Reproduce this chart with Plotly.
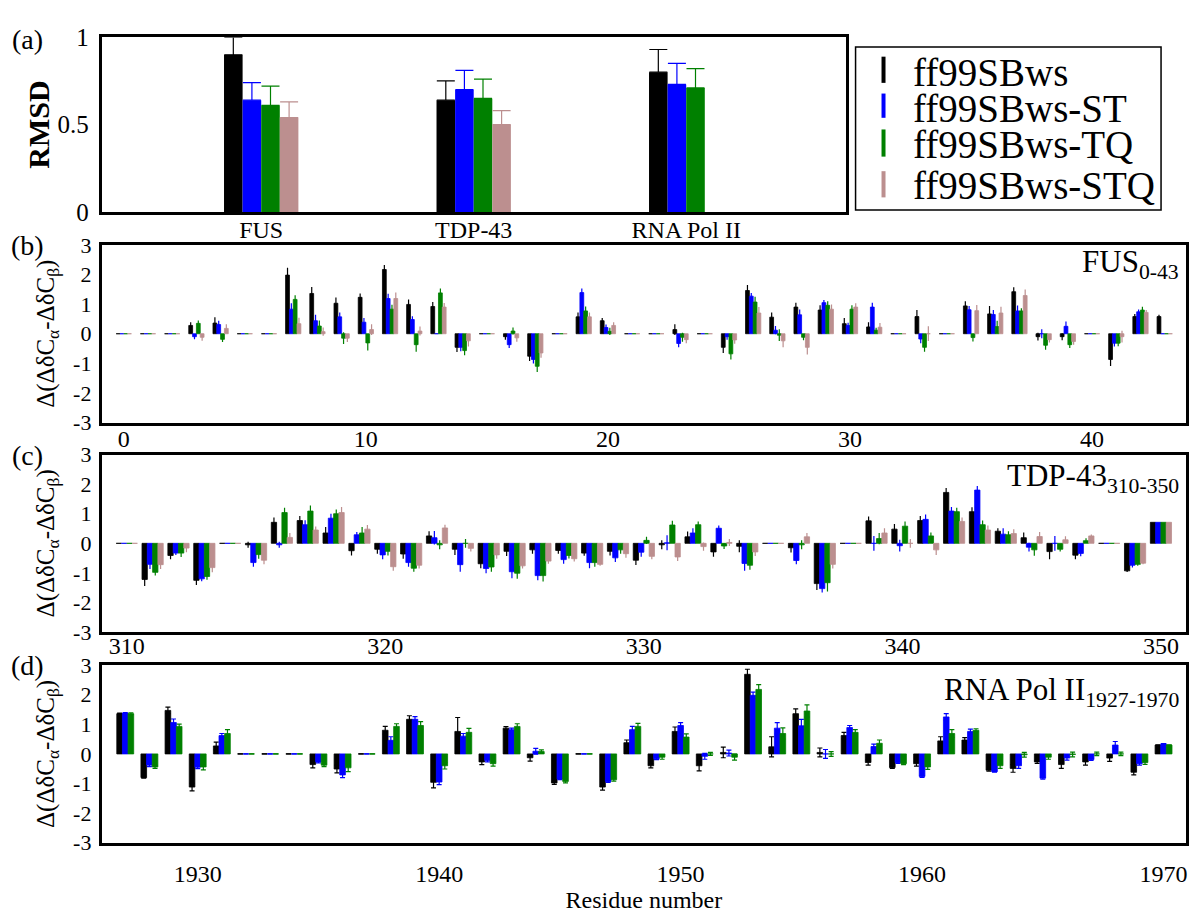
import plotly.graph_objects as go

W, H = 1193, 913
FONT = "Liberation Serif"

series_names = ["ff99SBws", "ff99SBws-ST", "ff99SBws-TQ", "ff99SBws-STQ"]
colors = ["#000000", "#0000ff", "#008000", "#bc8f8f"]

# ---------------- panel (a): RMSD ----------------
rmsd_categories = ["FUS", "TDP-43", "RNA Pol II"]
rmsd_ws = [0.90, 0.64, 0.80]
rmsd_st = [0.64, 0.70, 0.73]
rmsd_tq = [0.61, 0.65, 0.71]
rmsd_stq = [0.54, 0.50, None]
rmsd_err_ws = [0.10, 0.11, 0.13]
rmsd_err_st = [0.10, 0.11, 0.12]
rmsd_err_tq = [0.11, 0.11, 0.11]
rmsd_err_stq = [0.09, 0.08, None]

# ---------------- panel (b): FUS 0-43 ----------------
fus_res = list(range(0, 44))
fus_ws = [0, 0, 0, 0.28, 0.36, 0, 0, 1.98, 1.36, 1.03, 1.23, 2.17, 0.99, 0.92, -0.46, 0,
          -0.10, -0.76, 0, 0.57, 0.44, 0, 0, 0.14, 0, -0.46, 1.46, 0.56, 0.90, 0.80, 0.34, 0.23,
          0, 0.58, 0, 0.94, 0.67, 1.42, -0.10, -0.10, 0, -0.87, 0.58, 0.58]
fus_st = [0, 0, 0, -0.10, 0.31, 0, 0, 0.83, 0.44, 0.57, 0.39, 1.19, 0.48, 0.00, -0.46, 0,
          -0.37, -0.87, 0, 1.39, 0.21, 0, 0, -0.33, 0, -0.10, 1.27, 0.12, 0.64, 1.05, 0.28, 0.90,
          0, -0.18, 0, 0.81, 0.65, 0.77, 0.00, 0.25, 0, -0.32, 0.74, 0]
fus_tq = [0, 0, 0, 0.35, -0.19, 0, 0, 1.16, 0.26, -0.15, -0.31, 0.83, -0.37, 1.38, -0.57, 0,
          0.09, -1.10, 0, 0.77, 0.08, 0, 0, -0.12, 0, -0.68, 1.07, -0.05, -0.12, 0.96, 0.83, 0.12,
          0, -0.46, 0, -0.13, 0.24, 0.77, -0.39, -0.37, 0, -0.32, 0.80, 0]
fus_stq = [0, 0, 0, -0.12, 0.18, 0, 0, 0.34, 0.07, -0.15, 0.14, 1.19, 0.09, 0.90, -0.24, 0,
           -0.14, -0.65, 0, 0.57, 0.28, 0, 0, -0.20, 0, -0.21, 0.70, -0.24, -0.46, 0.83, 0.90, 0.22,
           0, 0.00, 0, 0.78, 0.70, 1.29, -0.20, -0.26, 0, -0.10, 0.72, 0]
fus_err_ws = [0, 0, 0, 0.11, 0.20, 0, 0, 0.25, 0.22, 0.19, 0.13, 0.15, 0.17, 0.15, 0.16, 0,
              0.10, 0.16, 0, 0.15, 0.09, 0, 0, 0.18, 0, 0.19, 0.19, 0.16, 0.15, 0.16, 0.19, 0.16,
              0, 0.22, 0, 0.16, 0.27, 0.15, 0.13, 0.12, 0, 0.22, 0.09, 0.06]
fus_err_st = [0, 0, 0, 0.09, 0.13, 0, 0, 0.20, 0.20, 0.15, 0.14, 0.16, 0.11, 0, 0.13, 0,
              0.11, 0.14, 0, 0.14, 0.10, 0, 0, 0.13, 0, 0.10, 0.11, 0.14, 0.18, 0.09, 0.09, 0.15,
              0, 0.14, 0, 0.13, 0.15, 0.18, 0.15, 0.16, 0, 0.11, 0.08, 0]
fus_err_tq = [0, 0, 0, 0.10, 0.09, 0, 0, 0.14, 0.19, 0.20, 0.26, 0.15, 0.24, 0.15, 0.16, 0,
              0.12, 0.19, 0, 0.15, 0.12, 0, 0, 0.15, 0, 0.19, 0.18, 0.20, 0.10, 0.14, 0.13, 0.08,
              0, 0.15, 0, 0.13, 0.20, 0.09, 0.15, 0.11, 0, 0.10, 0.11, 0]
fus_err_stq = [0, 0, 0, 0.12, 0.14, 0, 0, 0.20, 0.14, 0.13, 0.18, 0.20, 0.15, 0.14, 0.19, 0,
               0.13, 0.16, 0, 0.15, 0.11, 0, 0, 0.12, 0, 0.13, 0.20, 0.22, 0.24, 0.16, 0.13, 0.14,
               0, 0.25, 0, 0.19, 0.21, 0.20, 0.10, 0.11, 0, 0.20, 0.08, 0]

# ---------------- panel (c): TDP-43 310-350 ----------------
tdp_res = list(range(310, 351))
tdp_ws = [0, -1.22, -0.41, -1.25, 0, -0.05, 0.71, 0.77, 0.35, -0.25, -0.20, -0.36, 0.25, -0.20,
          -0.69, -0.27, -0.22, -0.24, -0.33, -0.27, -0.57, -0.05, 0.22, -0.29, -0.10, 0, -0.15,
          -1.36, 0, 0.76, 0.48, 0.77, 1.72, 1.07, 0.41, 0.19, -0.28, -0.40, 0, -0.93, 0.71]
tdp_st = [0, -0.71, -0.33, -1.20, 0, -0.65, -0.05, 0.63, 0.85, 0.29, -0.39, -0.65, 0.19, -0.72,
          -0.85, -0.96, -1.09, -0.55, -0.65, -0.49, -0.30, 0.02, 0.35, 0.51, -0.68, 0, -0.58,
          -1.53, 0, 0.00, -0.08, 0.81, 1.09, 1.80, 0.31, -0.13, 0.00, -0.34, 0, -0.74, 0.71]
tdp_tq = [0, -0.98, -0.33, -1.12, 0, -0.38, 1.04, 1.09, 1.00, 0.35, -0.27, -0.84, -0.05, 0.00,
          -0.80, -1.01, -1.09, -0.41, -0.65, -0.22, 0.10, 0.62, 0.63, -0.09, -0.74, 0, -0.05,
          -1.33, 0, 0.16, 0.58, 0.25, 1.07, 0.63, 0.29, -0.22, -0.20, 0.09, 0, -0.71, 0.71]
tdp_stq = [0, -0.72, -0.16, -0.82, 0, -0.57, 0.20, 0.45, 1.04, 0.48, -0.79, -0.74, 0.52, -0.17,
           -0.39, -0.76, -0.60, -0.52, -0.71, -0.35, -0.44, -0.46, -0.11, 0.03, -0.29, 0, 0.22,
           -0.71, 0, 0.35, 0.00, -0.22, 0.74, 0.45, 0.33, 0.23, 0.12, 0.25, 0, -0.67, 0.71]
tdp_err_ws = [0, 0.22, 0.13, 0.16, 0, 0.10, 0.16, 0.15, 0.20, 0.16, 0.15, 0.16, 0.16, 0.19,
              0.15, 0.16, 0.13, 0.11, 0.09, 0.14, 0.16, 0.15, 0.18, 0.16, 0.20, 0, 0.16,
              0.22, 0, 0.15, 0.17, 0.15, 0.15, 0.15, 0.10, 0.18, 0.26, 0.14, 0, 0.04, 0]
tdp_err_st = [0, 0.16, 0.06, 0.08, 0, 0.14, 0.10, 0.15, 0.15, 0.09, 0.15, 0.14, 0.23, 0.24,
              0.16, 0.22, 0.16, 0.14, 0.19, 0.14, 0.15, 0.25, 0.16, 0.09, 0.25, 0, 0.13,
              0.13, 0, 0.25, 0.20, 0.16, 0.14, 0.14, 0.20, 0.15, 0.25, 0.10, 0, 0.08, 0]
tdp_err_tq = [0, 0.11, 0.13, 0.11, 0, 0.14, 0.16, 0.19, 0.14, 0.20, 0.14, 0.12, 0.15, 0.15,
              0.16, 0.19, 0.20, 0.10, 0.14, 0.13, 0.12, 0.14, 0.11, 0.10, 0.15, 0, 0.15,
              0.30, 0, 0.19, 0.16, 0.12, 0.13, 0.14, 0.12, 0.20, 0.08, 0.08, 0, 0.05, 0]
tdp_err_stq = [0, 0.15, 0.14, 0.16, 0, 0.14, 0.15, 0.12, 0.19, 0.14, 0.14, 0.11, 0.11, 0.11,
               0.13, 0.09, 0.09, 0.09, 0.05, 0.14, 0.10, 0.14, 0.14, 0.12, 0.14, 0, 0.13,
               0.14, 0, 0.16, 0.15, 0.17, 0.13, 0.15, 0.15, 0.15, 0.12, 0.05, 0, 0.04, 0]

# ---------------- panel (d): RNA Pol II 1927-1970 ----------------
pol_res = list(range(1927, 1971))
pol_ws = [1.36, -0.80, 1.47, -1.12, 0.27, 0, 0, 0, -0.36, -0.51, 0, 0.80, 1.17, -0.96, 0.76,
          -0.27, 0.87, -0.13, -0.98, 0, -1.12, 0.38, -0.40, 0.76, -0.40, 0.05, 2.69, 0.24, 1.36,
          0.05, 0.62, -0.29, -0.46, -0.33, 0.44, 0.47, -0.55, -0.49, -0.27, -0.36, -0.27, -0.14,
          -0.62, 0.30]
pol_st = [1.38, -0.38, 1.06, -0.45, 0.62, 0, 0, 0, -0.27, -0.71, 0, 0.46, 1.17, -0.95, 0.60,
          -0.22, 0.82, 0.09, -0.85, 0, -0.93, 0.82, -0.16, 0.96, -0.08, 0.03, 1.98, 0.87, 0.95,
          0.00, 0.89, 0.25, -0.29, -0.76, 1.25, 0.76, -0.60, -0.40, -0.82, -0.14, -0.19, 0.30,
          -0.33, 0.34]
pol_tq = [1.36, -0.44, 0.93, -0.44, 0.69, 0, 0, 0, -0.38, -0.47, 0, 0.93, 0.96, -0.40, 0.73,
          -0.33, 0.93, 0.08, -0.93, 0, -0.87, 0.93, -0.11, 0.57, 0.00, -0.11, 2.18, 0.69, 1.45,
          0.00, 0.73, 0.36, -0.33, -0.44, 0.69, 0.80, -0.40, -0.03, -0.11, -0.02, 0.00, 0.00,
          -0.29, 0.30]
pol_err_ws = [0.02, 0.02, 0.11, 0.13, 0.13, 0, 0, 0, 0.11, 0.13, 0, 0.13, 0.12, 0.19, 0.47,
              0.09, 0.05, 0.11, 0.05, 0, 0.10, 0.09, 0.07, 0.15, 0.17, 0.18, 0.17, 0.34, 0.16,
              0.15, 0.11, 0.09, 0.03, 0.08, 0.14, 0.08, 0.03, 0.13, 0.05, 0.13, 0.11, 0.11,
              0.09, 0.01]
pol_err_st = [0.02, 0.05, 0.12, 0.05, 0.07, 0, 0, 0, 0.03, 0.09, 0, 0.12, 0.09, 0.09, 0.09,
              0.05, 0.05, 0.10, 0.02, 0, 0.03, 0.11, 0.03, 0.10, 0.10, 0.10, 0.11, 0.19, 0.22,
              0.15, 0.07, 0.08, 0.03, 0.03, 0.11, 0.08, 0.02, 0.09, 0.03, 0.07, 0.03, 0.12,
              0.05, 0.01]
pol_err_tq = [0.03, 0.05, 0.08, 0.10, 0.13, 0, 0, 0, 0.05, 0.13, 0, 0.09, 0.13, 0.11, 0.13,
              0.08, 0.09, 0.06, 0.05, 0, 0.05, 0.10, 0.07, 0.11, 0.05, 0.10, 0.16, 0.19, 0.21,
              0.08, 0.09, 0.11, 0.03, 0.08, 0.13, 0.05, 0.09, 0.08, 0.07, 0.08, 0.06, 0.06,
              0.06, 0.01]

ytick_vals = [-3, -2, -1, 0, 1, 2, 3]
ytick_text = ["-3", "-2", "-1", "0", "1", "2", "3"]


def px_x(p):
    return p / W


def px_y(p):
    return 1 - p / H


fig = go.Figure()


def add_group(xref, yref, xs, vals_list, errs_list, frac, cap, line_w, err_symmetric=True):
    n = len(vals_list)
    w = frac / n
    for i, (vals, errs) in enumerate(zip(vals_list, errs_list)):
        if err_symmetric:
            err = dict(type="data", array=errs, visible=True, color=colors[i],
                       thickness=1.2, width=cap)
        else:
            err = dict(type="data", symmetric=False, array=errs,
                       arrayminus=[0 if e is not None else None for e in errs],
                       visible=True, color=colors[i], thickness=1.2, width=cap)
        fig.add_trace(go.Bar(
            x=xs, y=vals, xaxis=xref, yaxis=yref,
            width=w, offset=-frac / 2 + i * w,
            marker=dict(color=colors[i], line=dict(color=colors[i], width=line_w)),
            error_y=err, showlegend=False, name=series_names[i],
        ))


add_group("x", "y", [0, 1, 2], [rmsd_ws, rmsd_st, rmsd_tq, rmsd_stq],
          [rmsd_err_ws, rmsd_err_st, rmsd_err_tq, rmsd_err_stq], 0.35, 9, 0, err_symmetric=False)
add_group("x2", "y2", fus_res, [fus_ws, fus_st, fus_tq, fus_stq],
          [fus_err_ws, fus_err_st, fus_err_tq, fus_err_stq], 0.63, 0, 0.8)
add_group("x3", "y3", tdp_res, [tdp_ws, tdp_st, tdp_tq, tdp_stq],
          [tdp_err_ws, tdp_err_st, tdp_err_tq, tdp_err_stq], 0.82, 0, 0.8)
add_group("x4", "y4", pol_res, [pol_ws, pol_st, pol_tq],
          [pol_err_ws, pol_err_st, pol_err_tq], 0.70, 2.5, 0.8)

axis_common = dict(showline=True, mirror=True, linewidth=3, linecolor="black",
                   ticks="", showgrid=False, zeroline=False,
                   tickfont=dict(family=FONT, size=24, color="black"))

ylabel = "Δ(ΔδC<sub>α</sub>-ΔδC<sub>β</sub>)"
ytitle_font = dict(family=FONT, size=25, color="black")
ytick_font = dict(family=FONT, size=22, color="black")


def xdom(l, r):
    return [px_x(l), px_x(r)]


def ydom(t, b):
    return [px_y(b), px_y(t)]


fig.update_layout(
    width=W, height=H, autosize=False,
    margin=dict(l=0, r=0, t=0, b=0),
    paper_bgcolor="white", plot_bgcolor="white",
    barmode="overlay",
    font=dict(family=FONT, color="black"),
    xaxis=dict(axis_common, domain=xdom(102, 847), range=[-0.75, 2.75],
               tickvals=[0, 1, 2], ticktext=rmsd_categories, ticklabelstandoff=-6,
               tickfont=dict(family=FONT, size=24, color="black"), anchor="y"),
    yaxis=dict(axis_common, domain=ydom(25, 205), range=[0, 1],
               tickvals=[0, 0.5, 1], ticktext=["0", "0.5", "1"], ticklabelstandoff=5,
               tickfont=dict(family=FONT, size=25, color="black"), anchor="x",
               title=dict(text="<b>RMSD</b>", font=dict(family=FONT, size=30, color="black"),
                          standoff=0)),
    xaxis2=dict(axis_common, domain=xdom(102, 1188), range=[-0.907, 43.88],
                tickvals=[0, 10, 20, 30, 40], ticklabelstandoff=-7, anchor="y2"),
    yaxis2=dict(axis_common, domain=ydom(239, 422), range=[-3, 3],
                tickvals=ytick_vals, ticktext=ytick_text, ticklabelstandoff=3,
                tickfont=ytick_font, anchor="x2",
                title=dict(text=ylabel, font=ytitle_font, standoff=12)),
    xaxis3=dict(axis_common, domain=xdom(102, 1188), range=[309.035, 350.97],
                tickvals=[310, 320, 330, 340, 350], ticklabelstandoff=-10, anchor="y3"),
    yaxis3=dict(axis_common, domain=ydom(455, 638), range=[-3, 3],
                tickvals=ytick_vals, ticktext=ytick_text, ticklabelstandoff=3,
                tickfont=ytick_font, anchor="x3",
                title=dict(text=ylabel, font=ytitle_font, standoff=12)),
    xaxis4=dict(axis_common, domain=xdom(102, 1188), range=[1926.03, 1970.93],
                tickvals=[1930, 1940, 1950, 1960, 1970], ticklabelstandoff=7, anchor="y4",
                title=dict(text="Residue number", font=dict(family=FONT, size=24, color="black"),
                           standoff=4)),
    yaxis4=dict(axis_common, domain=ydom(672, 855), range=[-3, 3],
                tickvals=ytick_vals, ticktext=ytick_text, ticklabelstandoff=3,
                tickfont=ytick_font, anchor="x4",
                title=dict(text=ylabel, font=ytitle_font, standoff=12)),
)

annotations = []
# panel letters
for lab, yc in [("(a)", 27), ("(b)", 240), ("(c)", 456), ("(d)", 672)]:
    annotations.append(dict(text=lab, x=px_x(28), y=px_y(yc), xref="paper", yref="paper",
                            xanchor="center", yanchor="middle", showarrow=False,
                            font=dict(family=FONT, size=28, color="black")))
# panel titles
for lab, yt in [("FUS<sub>0-43</sub>", 236), ("TDP-43<sub>310-350</sub>", 457),
                ("RNA Pol II<sub>1927-1970</sub>", 677)]:
    annotations.append(dict(text=lab, x=px_x(1183), y=px_y(yt), xref="paper", yref="paper",
                            xanchor="right", yanchor="top", showarrow=False,
                            font=dict(family=FONT, size=31, color="black")))
# manual legend
legend_rows = [61, 98, 136, 178]
swatch_spans = [(45, 72), (83, 108), (120, 148), (163, 190)]
shapes = [dict(type="rect", xref="paper", yref="paper", x0=px_x(857), x1=px_x(1163),
               y0=px_y(203), y1=px_y(35), line=dict(color="black", width=1.5))]
for i, name in enumerate(series_names):
    annotations.append(dict(text=name, x=px_x(913), y=px_y(legend_rows[i]), xref="paper",
                            yref="paper", xanchor="left", yanchor="middle", showarrow=False,
                            font=dict(family=FONT, size=39, color="black")))
    t, b = swatch_spans[i]
    shapes.append(dict(type="line", xref="paper", yref="paper", x0=px_x(885), x1=px_x(885),
                       y0=px_y(b), y1=px_y(t), line=dict(color=colors[i], width=4)))

fig.update_layout(annotations=annotations, shapes=shapes)

fig.write_html("out.html", config={"displayModeBar": False},
               post_script="document.body.style.margin='0';document.body.style.overflow='hidden';")
